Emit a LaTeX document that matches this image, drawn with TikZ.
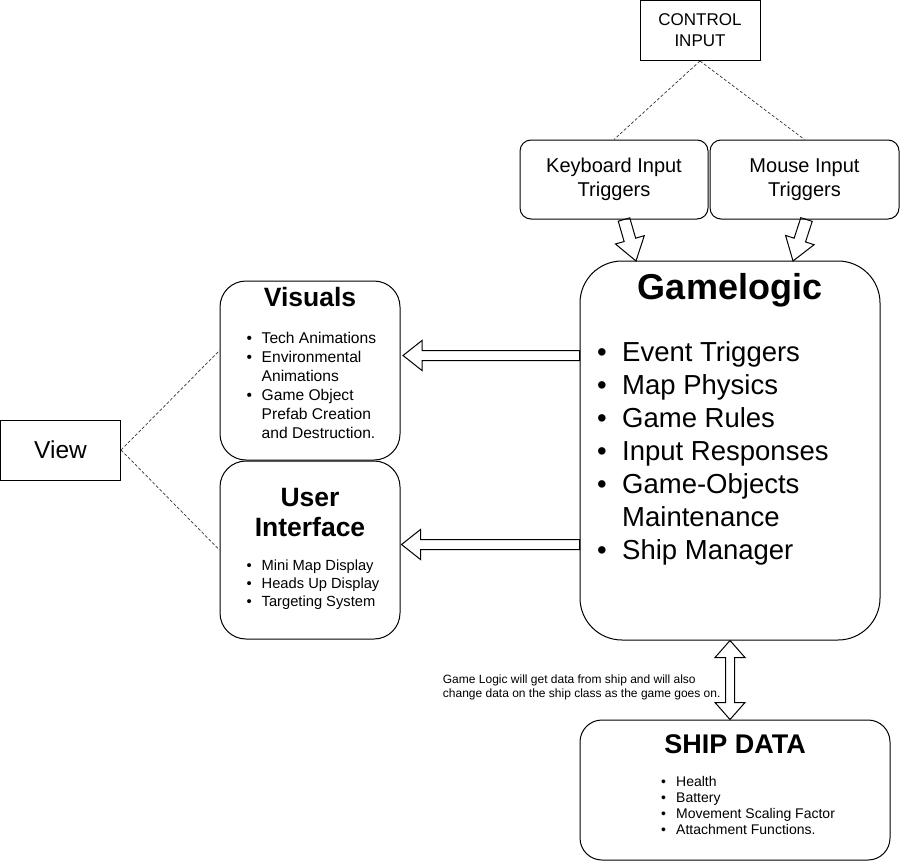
\documentclass[tikz,border=0pt]{standalone}
\usepackage{fontspec}
\setmainfont{Liberation Sans}
\usetikzlibrary{calc}

\tikzset{
  plainbox/.style={draw, line width=1pt, inner sep=0pt, align=center},
  roundbox/.style={plainbox, rounded corners=#1},
  linkline/.style={draw=black!80, line width=0.7pt, dash pattern=on 3pt off 2pt},
  fatline/.style={draw, line width=1pt, line join=miter},
  bulletlist/.style={anchor=base west, inner sep=0pt},
  titletext/.style={anchor=base, inner sep=0pt}
}

% hollow block arrow: from, to, shaft half width, head half width, head length
\newcommand{\fatarrow}[5]{%
  \path[fatline] let \p1=(#1), \p2=(#2),
    \n1={atan2(\y2-\y1,\x2-\x1)}, \n2={veclen(\x2-\x1,\y2-\y1)} in
    [shift={(\p1)}, rotate=\n1]
    (0pt,-#3) -- (\n2-#5,-#3) -- (\n2-#5,-#4) -- (\n2,0pt) -- (\n2-#5,#4)
    -- (\n2-#5,#3) -- (0pt,#3) -- cycle;}

% same, with a head at both ends
\newcommand{\twowayarrow}[5]{%
  \path[fatline] let \p1=(#1), \p2=(#2),
    \n1={atan2(\y2-\y1,\x2-\x1)}, \n2={veclen(\x2-\x1,\y2-\y1)} in
    [shift={(\p1)}, rotate=\n1]
    (0pt,0pt) -- (#5,#4) -- (#5,#3) -- (\n2-#5,#3) -- (\n2-#5,#4) -- (\n2,0pt)
    -- (\n2-#5,-#4) -- (\n2-#5,-#3) -- (#5,-#3) -- (#5,-#4) -- cycle;}

\begin{document}
\begin{tikzpicture}[x=1pt, y=-1pt]
\useasboundingbox (0,0) rectangle (901,862);

% input side
\node [plainbox, minimum width=120pt, minimum height=60pt, font=\fontsize{17}{21}\selectfont] (ctrl) at (700,30.5) {CONTROL\\INPUT};
\node [roundbox=11pt, minimum width=188pt, minimum height=79pt, font=\fontsize{20}{24}\selectfont] (keys) at (614,179.5) {Keyboard Input\\Triggers};
\node [roundbox=11pt, minimum width=189pt, minimum height=79pt, font=\fontsize{20}{24}\selectfont] (mouse) at (804.5,179.5) {Mouse Input\\Triggers};

\draw [linkline] (ctrl.south) -- (keys.north);
\draw [linkline] (ctrl.south) -- (mouse.north);

% game logic
\node [roundbox=42pt, minimum width=300pt, minimum height=379pt] (logic) at (730,450.5) {};
\node [titletext, font=\fontsize{36}{43}\selectfont\bfseries] (logic-title) at (730,299) {Gamelogic};
\node [bulletlist, font=\fontsize{27.5}{33}\selectfont] (logic-list) at (597,361) {%
  \begin{tabular}[t]{@{}p{25pt}@{}l@{}}
  \textbullet & Event Triggers\\
  \textbullet & Map Physics\\
  \textbullet & Game Rules\\
  \textbullet & Input Responses\\
  \textbullet & Game-Objects\\
              & Maintenance\\
  \textbullet & Ship Manager
  \end{tabular}};

\coordinate (keys-tip) at (636,261);
\coordinate (mouse-tip) at (793,261);
\fatarrow{[xshift=10pt]keys.south}{keys-tip}{6pt}{15pt}{22pt}
\fatarrow{[xshift=2pt]mouse.south}{mouse-tip}{6pt}{15pt}{22pt}

% view side
\node [plainbox, minimum width=120pt, minimum height=60pt, font=\fontsize{24.5}{29}\selectfont] (view) at (60.5,450) {View};

\node [roundbox=26pt, minimum width=180pt, minimum height=179pt] (visuals) at (310,370.5) {};
\node [titletext, font=\fontsize{26.5}{31}\selectfont\bfseries] (visuals-title) at (310,306.5) {Visuals};
\node [bulletlist, font=\fontsize{15.6}{19}\selectfont] (visuals-list) at (246.3,343.5) {%
  \begin{tabular}[t]{@{}p{15.2pt}@{}l@{}}
  \textbullet & Tech Animations\\
  \textbullet & Environmental\\
              & Animations\\
  \textbullet & Game Object\\
              & Prefab Creation\\
              & and Destruction.
  \end{tabular}};

\node [roundbox=26pt, minimum width=180pt, minimum height=178pt] (ui) at (310,550) {};
\node [titletext, font=\fontsize{26.5}{30.5}\selectfont\bfseries] (ui-title) at (310,506) {%
  \begin{tabular}[t]{@{}c@{}}User\\Interface\end{tabular}};
\node [bulletlist, font=\fontsize{14.7}{18}\selectfont] (ui-list) at (246.4,570.3) {%
  \begin{tabular}[t]{@{}p{15.1pt}@{}l@{}}
  \textbullet & Mini Map Display\\
  \textbullet & Heads Up Display\\
  \textbullet & Targeting System
  \end{tabular}};

\draw [linkline] (view.east) -- ([yshift=20pt]visuals.west);
\draw [linkline] (view.east) -- (ui.west);

\coordinate (visuals-tip) at (403,355.5);
\coordinate (ui-tip) at (401.5,544.5);
\fatarrow{logic.west |- visuals-tip}{visuals-tip}{5pt}{15pt}{19pt}
\fatarrow{logic.west |- ui-tip}{ui-tip}{5pt}{15pt}{19pt}

% ship data
\node [roundbox=22pt, minimum width=310pt, minimum height=140pt] (ship) at (735,790) {};
\node [titletext, font=\fontsize{27}{32}\selectfont\bfseries] (ship-title) at (735,753.5) {SHIP DATA};
\node [bulletlist, font=\fontsize{14}{16}\selectfont] (ship-list) at (660.9,786.7) {%
  \begin{tabular}[t]{@{}p{15.1pt}@{}l@{}}
  \textbullet & Health\\
  \textbullet & Battery\\
  \textbullet & Movement Scaling Factor\\
  \textbullet & Attachment Functions.
  \end{tabular}};

\twowayarrow{logic.south}{logic.south |- ship.north}{4.5pt}{15pt}{17pt}

\node [bulletlist, font=\fontsize{12}{14}\selectfont] (note) at (442.7,683.5) {%
  \begin{tabular}[t]{@{}l@{}}
  Game Logic will get data from ship and will also\\
  change data on the ship class as the game goes on.
  \end{tabular}};

\end{tikzpicture}
\end{document}
